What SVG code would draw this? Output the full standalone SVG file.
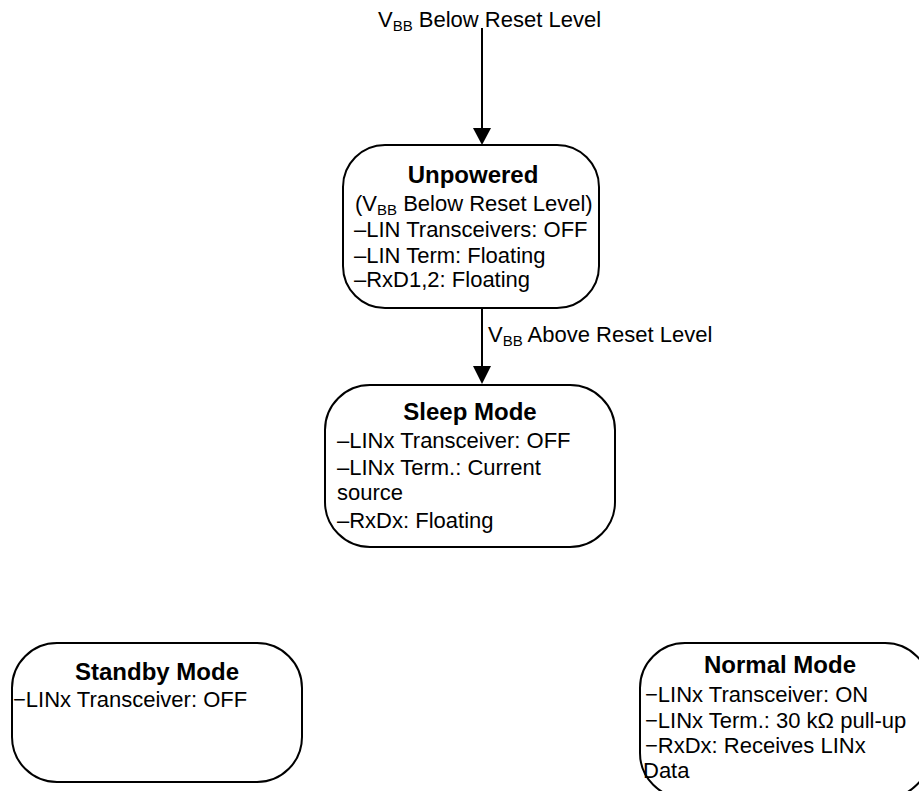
<svg xmlns="http://www.w3.org/2000/svg" width="919" height="791" viewBox="0 0 919 791">
<style>
.box{fill:#fff;stroke:#000;stroke-width:2}
.t{font-family:"Liberation Sans",Arial,sans-serif;font-size:22px;fill:#000}
.h{font-family:"Liberation Sans",Arial,sans-serif;font-size:24px;font-weight:bold;fill:#000;text-anchor:middle}
.sub{font-size:15px}
.ln{stroke:#000;stroke-width:2;fill:none}
</style>
<defs>
<marker id="ah" viewBox="0 0 10 10" refX="10" refY="5" markerWidth="9" markerHeight="9" markerUnits="userSpaceOnUse" orient="auto">
<path d="M0,0 L10,5 L0,10 z" fill="#000"/>
</marker>
</defs>
<rect width="919" height="791" fill="#fff"/>
<g id="connectors">
<line class="ln" x1="482" y1="28" x2="482" y2="128"/>
<path d="M473,128 L491,128 L482,145 z" fill="#000"/>
<line class="ln" x1="482" y1="308" x2="482" y2="366"/>
<path d="M473,366 L491,366 L482,384 z" fill="#000"/>
<text class="t" x="378" y="27">V<tspan class="sub" dy="4">BB</tspan><tspan dy="-4"> Below Reset Level</tspan></text>
<text class="t" x="488" y="342">V<tspan class="sub" dy="4">BB</tspan><tspan dy="-4"> Above Reset Level</tspan></text>
</g>
<g id="unpowered">
<rect class="box" x="343" y="145" width="256" height="163" rx="42" ry="42"/>
<text class="h" x="473" y="183">Unpowered</text>
<text class="t" x="355" y="211">(V<tspan class="sub" dy="4">BB</tspan><tspan dy="-4"> Below Reset Level)</tspan></text>
<text class="t" x="354" y="237">–LIN Transceivers: OFF</text>
<text class="t" x="354" y="263">–LIN Term: Floating</text>
<text class="t" x="354" y="287">–RxD1,2: Floating</text>
</g>
<g id="sleep">
<rect class="box" x="325" y="385" width="290" height="162" rx="45" ry="45"/>
<text class="h" x="470" y="420">Sleep Mode</text>
<text class="t" x="337" y="448">–LINx Transceiver: OFF</text>
<text class="t" x="337" y="475">–LINx Term.: Current</text>
<text class="t" x="337" y="500">source</text>
<text class="t" x="337" y="528">–RxDx: Floating</text>
</g>
<g id="standby">
<rect class="box" x="12" y="643" width="290" height="139" rx="45" ry="45"/>
<text class="h" x="157" y="680">Standby Mode</text>
<text class="t" x="13" y="707">−LINx Transceiver: OFF</text>
</g>
<g id="normal">
<rect class="box" x="640" y="643" width="290" height="155" rx="45" ry="45"/>
<text class="h" x="780" y="673">Normal Mode</text>
<text class="t" x="645" y="702">−LINx Transceiver: ON</text>
<text class="t" x="645" y="728">−LINx Term.: 30 kΩ pull-up</text>
<text class="t" x="645" y="753">−RxDx: Receives LINx</text>
<text class="t" x="643" y="778">Data</text>
</g>
</svg>
